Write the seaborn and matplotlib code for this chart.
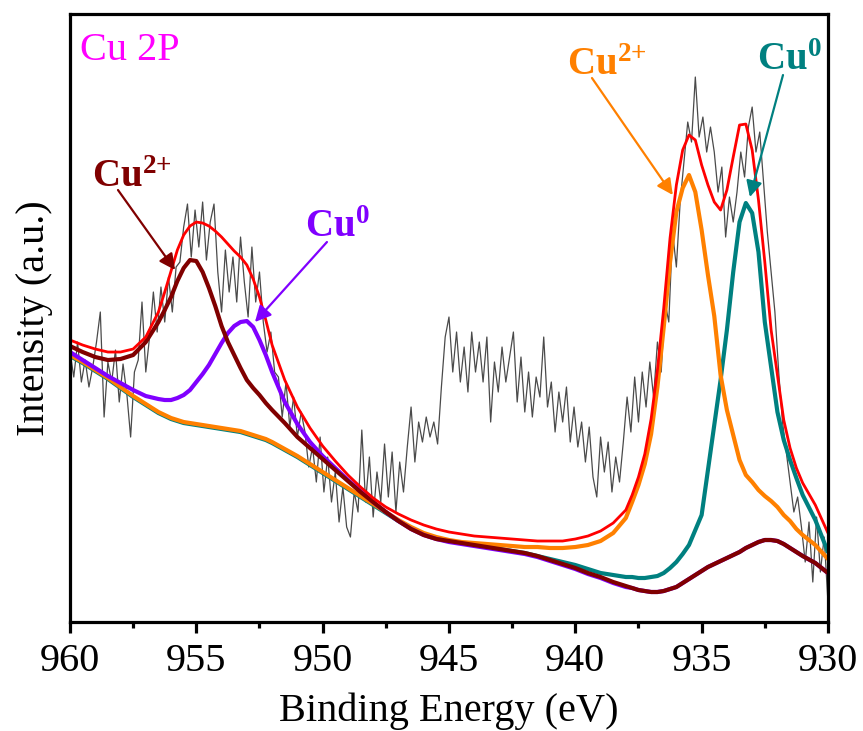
import numpy as np
import matplotlib
matplotlib.use("Agg")
import matplotlib.pyplot as plt
from matplotlib.ticker import MultipleLocator
import seaborn as sns

# ---------------- data ----------------
energy_raw = np.linspace(960, 930, 201)
intensity_raw = [
    270, 245, 280, 240, 262, 235,
    255, 280, 310, 205, 260,
    240, 272, 220, 258, 228,
    185, 250,
    262, 320, 250, 285, 330,
    290, 335, 300, 345, 310, 355,
    360, 395, 418,
    365, 412, 375, 420, 362, 400, 418,
    350, 310, 372, 330, 365, 320, 385,
    340, 305, 375, 320, 350,
    300, 270, 290, 250,
    245, 205, 240, 195, 225, 185, 210,
    190, 155, 175, 140, 185, 130, 165, 120,
    150, 100, 135, 95, 85,
    130, 110, 192, 120, 165, 105, 150,
    120, 178, 125, 170, 110, 160, 130, 175,
    215, 160, 200,
    180, 205, 185, 200, 178,
    235, 285, 305, 250, 290, 240,
    275, 230, 290, 250, 280, 240, 285,
    200, 260, 230, 275, 240, 265, 290,
    220, 265, 210, 250, 205, 245, 225,
    285, 215, 240, 190, 230, 200, 235, 180, 215, 175,
    200, 160, 195, 145, 125, 185, 150, 180, 130, 165, 140,
    180, 225, 190, 245, 200, 250, 215, 260, 225,
    280, 250, 320,
    300, 390, 355, 420,
    460, 500, 480,
    545,
    485, 505, 470, 495,
    470, 430, 455,
    385, 425, 400, 430,
    470, 445,
    495, 515, 470, 490,
    440, 390, 350,
    310, 250, 200, 170,
    140, 110, 125,
    95, 60, 100, 40,
    105, 50, 85, 20,
]

energy_fit = [
    960, 959.5, 959, 958.5, 958, 957.5, 957,
    956.5, 956.25, 956, 955.75, 955.5, 955.25, 955, 954.75, 954.5, 954.25,
    954, 953.75, 953.5, 953.25, 953, 952.75, 952.5, 952.25, 952,
    951.5, 951, 950.5, 950, 949.5, 949, 948.5, 948, 947.5, 947, 946.5, 946, 945.5,
    945, 944.5, 944, 943.5, 943, 942.5, 942, 941.5, 941, 940.5,
    940, 939.5, 939, 938.5, 938,
    937.75, 937.5, 937.25, 937, 936.75, 936.5, 936.25, 936, 935.75, 935.5,
    935.25, 935, 934.75, 934.5, 934.25, 934, 933.75, 933.5, 933.25, 933,
    932.75, 932.5, 932.25, 932, 931.75, 931.5, 931.25, 931,
    930.5, 930,
]

envelope = [
    282, 277, 273, 270, 270, 273, 285,
    310, 330, 351, 372, 387, 396, 400, 399, 396, 391,
    385, 378, 371, 365, 357, 343, 325, 302, 277,
    242, 215, 194, 176, 161, 147, 135, 124, 115, 108, 102, 97, 93,
    90, 88, 86, 85, 84, 83, 82, 81, 81, 81,
    83, 86, 91, 99, 112,
    127, 145, 168, 203, 252, 314, 384, 437, 472, 487,
    482, 457, 437, 420, 412, 432, 465, 497, 498, 472,
    422, 360, 292, 247, 202, 174, 154, 139,
    117, 89,
]

cu2_2p32 = [
    267, 260, 252, 244, 235, 226, 218,
    210, 207, 204, 202, 200, 199, 198, 197, 196, 195,
    194, 193, 192, 191, 189, 187, 185, 183, 180,
    173, 166, 158, 150, 142, 134, 126, 118, 110, 102, 95, 89, 85,
    82, 80, 79, 78, 77, 76, 75, 75, 74, 74,
    75, 77, 81, 89, 104,
    120, 137, 158, 188, 235, 295, 360, 410, 434, 447,
    430, 392, 347, 306, 247, 212, 187, 162, 147, 140,
    132, 126, 121, 115, 107, 101, 93, 87,
    77, 63,
]

cu0_2p32 = [
    266, 259, 251, 243, 234, 225, 217,
    209, 206, 203, 201, 199, 198, 197, 196, 195, 194,
    193, 192, 191, 190, 188, 186, 184, 182, 179,
    172, 165, 157, 149, 141, 133, 125, 117, 109, 101, 94, 88, 84,
    81, 79, 77, 75, 73, 71, 69, 66, 63, 60,
    57, 53, 49, 47, 45,
    45, 44, 44, 45, 46, 49, 54, 60, 68, 77,
    92, 107, 152, 197, 242, 292, 350, 400, 419, 409,
    370, 300, 255, 210, 182, 162, 144, 127,
    102, 70,
]

cu2_2p12 = [
    276, 270, 265, 262, 263, 267, 280,
    300, 312, 325, 341, 354, 362, 361, 350, 334, 316,
    296, 280, 267, 254, 242, 234, 227, 219, 212,
    199, 185, 174, 163, 152, 141, 130, 120, 110, 101, 93, 87, 83,
    81, 79, 77, 75, 73, 71, 69, 66, 62, 58,
    54, 49, 45, 40, 36,
    34, 32, 31, 30, 30, 31, 33, 35, 39, 43,
    47, 51, 55, 58, 61, 64, 67, 70, 74, 77,
    80, 82, 82, 81, 78, 74, 70, 66,
    59, 49,
]

cu0_2p12 = [
    270, 262, 254, 246, 239, 232, 226,
    223, 222, 222, 224, 227, 232, 240, 248, 257, 268,
    279, 289, 296, 300, 301, 295, 282, 267, 250,
    220, 198, 180, 166, 154, 142, 131, 120, 110, 101, 93, 87, 83,
    80, 78, 76, 74, 72, 70, 68, 65, 61, 57,
    53, 48, 44, 39, 35,
    34, 32, 31, 30, 30, 31, 33, 35, 39, 43,
    47, 51, 55, 58, 61, 64, 67, 70, 74, 77,
    80, 82, 82, 81, 78, 74, 70, 66,
    59, 49,
]

tick_values = [960, 955, 950, 945, 940, 935, 930]

# ---------------- style ----------------
sns.set_theme(style="white")
plt.rcParams['font.family'] = ['Liberation Serif', 'DejaVu Serif']
plt.rcParams['mathtext.fontset'] = 'custom'
plt.rcParams['mathtext.rm'] = 'Liberation Serif'
plt.rcParams['mathtext.bf'] = 'Liberation Serif:bold'

C_RED = '#FF0000'
C_ORANGE = '#FF8000'
C_TEAL = '#008080'
C_MAROON = '#800000'
C_PURPLE = '#8000FF'
C_RAW = '#4a4a4a'

fig = plt.figure(figsize=(8.63, 7.31), dpi=100)
ax = fig.add_axes([0.0811, 0.1491, 0.8783, 0.8317])

sns.lineplot(x=energy_raw, y=intensity_raw, color=C_RAW, lw=0.9, ax=ax,
             sort=False, estimator=None)
for vals, col, lw in [(cu0_2p32, C_TEAL, 3.0), (cu2_2p32, C_ORANGE, 3.0),
                      (cu0_2p12, C_PURPLE, 3.0), (cu2_2p12, C_MAROON, 3.0),
                      (envelope, C_RED, 2.0)]:
    sns.lineplot(x=energy_fit, y=vals, color=col, lw=lw, ax=ax,
                 sort=False, estimator=None)

ax.set_xlim(960, 930)
ax.set_ylim(0, 608)
ax.set_xticks(tick_values)
ax.set_xticklabels([str(t) for t in tick_values])
ax.xaxis.set_minor_locator(MultipleLocator(2.5))
ax.set_yticks([])

for sp in ax.spines.values():
    sp.set_visible(True)
    sp.set_color('black')
    sp.set_linewidth(2.3)

ax.tick_params(axis='x', which='both', bottom=True, top=False, direction='out',
               width=2.3, color='black')
ax.tick_params(axis='x', which='major', length=8, labelsize=29, pad=7,
               labelcolor='black')
ax.tick_params(axis='x', which='minor', length=4.5)
ax.tick_params(axis='y', left=False, right=False)

ax.set_xlabel('Binding Energy (eV)', fontsize=29, color='black', labelpad=9)
ax.set_ylabel('Intensity (a.u.)', fontsize=29, color='black', labelpad=12)

# ---------------- annotations ----------------
ax.text(959.6, 562, 'Cu 2P', color='#FF00FF', fontsize=29, va='baseline', ha='left')

def label(x, y, txt, col):
    ax.text(x, y, txt, color=col, fontsize=28, va='baseline', ha='left')

label(959.13, 435, r'$\mathbf{Cu^{2{+}}}$', C_MAROON)
label(950.7, 385, r'$\mathbf{Cu^{0}}$', C_PURPLE)
label(940.33, 547, r'$\mathbf{Cu^{2{+}}}$', C_ORANGE)
label(932.81, 552, r'$\mathbf{Cu^{0}}$', C_TEAL)

def arrow(x0, y0, x1, y1, col):
    ax.annotate('', xy=(x1, y1), xytext=(x0, y0),
                arrowprops=dict(arrowstyle='-|>', color=col, lw=1.6,
                                mutation_scale=24, shrinkA=0, shrinkB=0))

arrow(958.10, 432, 955.84, 352, C_MAROON)
arrow(949.83, 380, 952.68, 300, C_PURPLE)
arrow(939.34, 544, 936.14, 427, C_ORANGE)
arrow(931.78, 547, 933.09, 425, C_TEAL)

fig.savefig('out.png', dpi=100)
